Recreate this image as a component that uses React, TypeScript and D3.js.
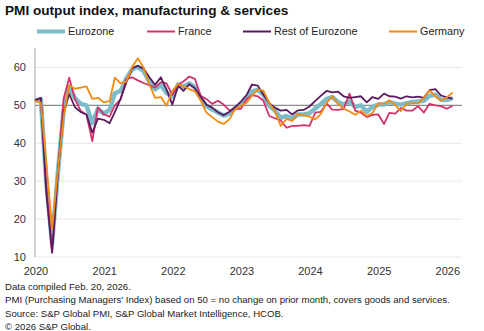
import React from "react";
import * as d3 from "d3";

const yearTicks = [2020, 2021, 2022, 2023, 2024, 2025, 2026];
const yTicks = [10, 20, 30, 40, 50, 60];

const seriesNames = ["Eurozone", "France", "Rest of Eurozone", "Germany"];
const seriesColors = ["#7dbdca", "#d4326c", "#5b1b5f", "#f18c12"];

// Monthly values Jan 2020 .. Feb 2026
const eurozone = [
  51.3, 51.6, 29.7, 13.6, 31.9, 48.5, 54.9, 51.9, 50.4, 50.0, 45.3, 49.1,
  47.8, 48.8, 53.2, 53.8, 57.1, 59.5, 60.2, 59.0, 56.2, 54.2, 55.4, 53.3,
  52.3, 55.5, 54.9, 55.8, 54.8, 52.0, 49.9, 48.9, 48.1, 47.3, 47.8, 49.3,
  50.3, 52.0, 53.7, 54.1, 52.8, 49.9, 48.6, 46.7, 47.2, 46.5, 47.6, 47.6,
  47.9, 49.2, 50.3, 51.7, 52.2, 50.9, 50.2, 51.0, 49.6, 50.0, 48.3, 49.6,
  50.2, 50.2, 50.9, 50.4, 50.2, 50.6, 50.9, 51.0, 51.2, 52.5, 52.8, 51.5,
  51.4, 51.9,
];
const france = [
  51.1, 52.0, 28.9, 11.1, 32.1, 51.7, 57.3, 51.6, 48.5, 47.5, 40.6, 49.5,
  47.7, 47.0, 50.0, 51.6, 57.0, 57.4, 56.6, 55.9, 55.3, 54.7, 56.1, 55.8,
  52.7, 55.5, 56.3, 57.6, 57.0, 52.5, 51.7, 50.4, 51.2, 50.2, 48.7, 49.1,
  49.1, 51.7, 52.7, 52.4, 51.2, 47.2, 46.6, 46.0, 44.1, 44.6, 44.6, 44.8,
  44.6, 48.1, 48.3, 50.5, 48.9, 48.8, 49.1, 53.1, 48.6, 48.1, 46.9, 47.5,
  47.6, 45.1, 48.0, 47.8, 49.3, 48.6, 48.6, 49.8, 48.1, 50.4, 50.0, 49.8,
  49.1, 49.9,
];
const restOfEurozone = [
  51.4, 51.9, 27.2, 11.2, 31.6, 48.1, 53.0, 49.5, 48.2, 47.6, 42.8, 46.5,
  46.2, 45.3, 48.2, 51.8, 56.0, 59.8, 60.4, 59.7, 57.4, 55.4, 57.4, 54.2,
  50.2, 55.2, 53.8, 55.6, 54.5, 52.2, 50.2, 49.4, 48.2, 47.4, 48.3, 49.5,
  51.0, 52.8, 55.5, 55.2, 52.8, 50.6, 49.4, 48.6, 48.8, 47.6, 48.7, 48.8,
  49.7, 51.2, 52.5, 53.8, 53.4, 53.6, 52.4, 52.0, 52.2, 52.4, 50.8, 52.2,
  51.7, 53.1, 52.4, 52.3, 51.8, 52.4, 52.1, 52.3, 52.0, 54.0, 54.3, 52.6,
  52.1, 51.8,
];
const germany = [
  51.2, 50.7, 35.0, 17.4, 32.3, 47.0, 55.3, 54.4, 54.7, 55.0, 51.7, 52.0,
  50.8, 51.1, 57.3, 55.8, 56.2, 60.1, 62.4, 60.0, 55.5, 52.0, 52.2, 49.9,
  53.8, 55.6, 55.1, 54.3, 53.7, 51.3, 48.1, 46.9, 45.7, 45.1, 46.3, 49.0,
  49.9, 50.7, 52.6, 54.2, 53.9, 50.6, 48.5, 44.6, 46.4, 45.9, 47.8, 47.4,
  47.0, 46.3, 47.7, 50.6, 52.4, 50.4, 49.1, 48.4, 47.5, 48.6, 47.2, 48.0,
  50.5, 50.4, 51.3, 50.1, 48.5, 50.4, 50.6, 50.5, 52.0, 53.9, 52.4, 51.3,
  52.1, 53.4,
];

const footerLines = [
  "Data compiled Feb. 20, 2026.",
  "PMI (Purchasing Managers' Index) based on 50 = no change on prior month, covers goods and services.",
  "Source: S&P Global PMI, S&P Global Market Intelligence, HCOB.",
  "\u00a9 2026 S&P Global.",
];

const W = 484;
const H = 331;
const FONT = "'Liberation Sans', Arial, Helvetica, sans-serif";

export default function App() {
  const dates = d3.timeMonth.range(new Date(2020, 0, 1), new Date(2026, 2, 1));
  const x = d3
    .scaleTime()
    .domain([new Date(2020, 0, 1), new Date(2026, 0, 1)])
    .range([35, 446.8]);
  const y = d3.scaleLinear().domain([10, 65]).range([257, 48.5]);
  const gridRight = 462;

  const allSeries = [eurozone, france, restOfEurozone, germany];
  const line = d3
    .line<number>()
    .x((_, i) => x(dates[i]))
    .y((d) => y(d));

  const legendX = [37, 147, 243, 389];

  return (
    <svg
      width={W}
      height={H}
      style={{ position: "absolute", left: 0, top: 0, background: "#fff" }}
      fontFamily={FONT}
    >
      <rect width={W} height={H} fill="#fff" />
      <text x={5} y={15} fontSize={13.6} fontWeight="bold" fill="#111">
        PMI output index, manufacturing &amp; services
      </text>

      {seriesNames.map((name, i) => (
        <g key={name}>
          <line
            x1={legendX[i]}
            x2={legendX[i] + 28}
            y1={31.5}
            y2={31.5}
            stroke={seriesColors[i]}
            strokeWidth={i === 0 ? 4 : 2}
          />
          <text x={legendX[i] + 31} y={35.3} fontSize={10.8} fill="#222">
            {name}
          </text>
        </g>
      ))}

      {yTicks.map((t) => (
        <g key={t}>
          <line
            x1={35}
            x2={gridRight}
            y1={y(t)}
            y2={y(t)}
            stroke={t === 50 ? "#8c8c8c" : "#e8e8e8"}
            strokeWidth={t === 50 ? 1.2 : 1}
          />
          <text
            x={26}
            y={y(t) + 4}
            fontSize={11}
            textAnchor="end"
            fill="#333"
          >
            {t}
          </text>
        </g>
      ))}
      <line x1={35} x2={35} y1={48} y2={257} stroke="#a6a6a6" strokeWidth={1} />

      {yearTicks.map((yr) => (
        <text
          key={yr}
          x={x(new Date(yr, 0, 1)) + 1}
          y={274.5}
          fontSize={11}
          textAnchor="middle"
          fill="#333"
        >
          {yr}
        </text>
      ))}

      {allSeries.map((s, i) => (
        <path
          key={seriesNames[i]}
          d={line(s) || ""}
          fill="none"
          stroke={seriesColors[i]}
          strokeWidth={i === 0 ? 4.5 : 1.8}
          strokeLinejoin="round"
        />
      ))}

      {footerLines.map((t, i) => (
        <text key={i} x={5} y={289.5 + i * 13.5} fontSize={9.6} fill="#222">
          {t}
        </text>
      ))}
    </svg>
  );
}
